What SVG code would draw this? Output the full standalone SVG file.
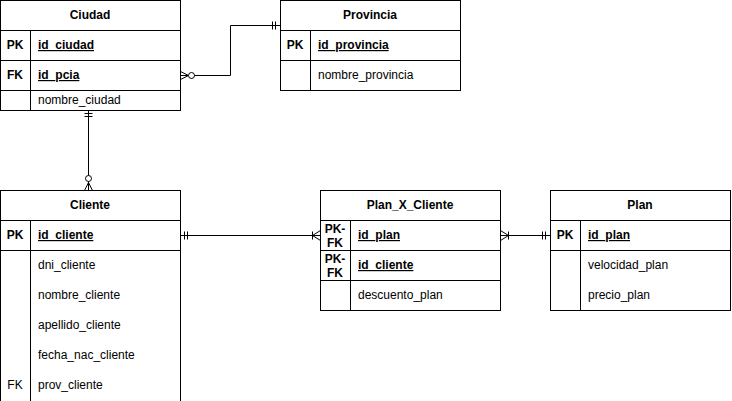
<svg xmlns="http://www.w3.org/2000/svg" width="732" height="401" viewBox="0 0 732 401">
<style>
text{font-family:"Liberation Sans",Arial,Helvetica,sans-serif;font-size:12px;fill:#000}
.h{font-weight:bold;text-anchor:middle}
.k{font-weight:bold;text-anchor:middle}
.u{font-weight:bold;text-decoration:underline}
.box{fill:#fff;stroke:#000;stroke-width:1}
.ln{fill:none;stroke:#000;stroke-width:1}
</style>
<rect width="732" height="401" fill="#fff"/>
<g id="connectors" class="ln">
  <path d="M180.5 75.5 H230.5 V25.5 H280.5"/>
  <path d="M180.5 71.5 L188.5 75.5 L180.5 79.5"/>
  <circle cx="191.5" cy="75.5" r="3" fill="#fff"/>
  <path d="M272.5 21.5 V29.5 M275.5 21.5 V29.5"/>
  <path d="M88.5 110.5 V190.5"/>
  <path d="M84.5 113.5 H92.5 M84.5 116.5 H92.5"/>
  <path d="M84.5 190.5 L88.5 182.5 L92.5 190.5"/>
  <circle cx="88.5" cy="178.5" r="3" fill="#fff"/>
  <path d="M180.5 235.5 H320.5"/>
  <path d="M184.5 231.5 V239.5 M187.5 231.5 V239.5"/>
  <path d="M320.5 230.5 L312.5 235.5 L320.5 240.5 M312.5 231.5 V239.5"/>
  <path d="M500.5 235.5 H550.5"/>
  <path d="M500.5 230.5 L508.5 235.5 L500.5 240.5 M508.5 231.5 V239.5"/>
  <path d="M542.5 231.5 V239.5 M545.5 231.5 V239.5"/>
</g>
<g id="ciudad">
  <rect class="box" x="0.5" y="0.5" width="180" height="110"/>
  <path class="ln" d="M0.5 30.5 H180.5 M0.5 60.5 H180.5 M0.5 90.5 H180.5 M30.5 30.5 V110.5"/>
  <text class="h" x="90" y="19">Ciudad</text>
  <text class="k" x="15" y="49">PK</text>
  <text class="u" x="38" y="49">id_ciudad</text>
  <text class="k" x="15" y="79">FK</text>
  <text class="u" x="38" y="79">id_pcia</text>
  <text x="38" y="104">nombre_ciudad</text>
</g>
<g id="provincia">
  <rect class="box" x="280.5" y="0.5" width="180" height="90"/>
  <path class="ln" d="M280.5 30.5 H460.5 M280.5 60.5 H460.5 M310.5 30.5 V90.5"/>
  <text class="h" x="370" y="19">Provincia</text>
  <text class="k" x="295" y="49">PK</text>
  <text class="u" x="318" y="49">id_provincia</text>
  <text x="318" y="79">nombre_provincia</text>
</g>
<g id="cliente">
  <rect class="box" x="0.5" y="190.5" width="180" height="220"/>
  <path class="ln" d="M0.5 220.5 H180.5 M0.5 250.5 H180.5 M30.5 220.5 V410.5"/>
  <text class="h" x="90" y="209">Cliente</text>
  <text class="k" x="15" y="239">PK</text>
  <text class="u" x="38" y="239">id_cliente</text>
  <text x="38" y="269">dni_cliente</text>
  <text x="38" y="299">nombre_cliente</text>
  <text x="38" y="329">apellido_cliente</text>
  <text x="38" y="359">fecha_nac_cliente</text>
  <text x="15" y="389" text-anchor="middle">FK</text>
  <text x="38" y="389">prov_cliente</text>
</g>
<g id="plan_x_cliente">
  <rect class="box" x="320.5" y="190.5" width="180" height="120"/>
  <path class="ln" d="M320.5 220.5 H500.5 M320.5 250.5 H500.5 M320.5 280.5 H500.5 M350.5 220.5 V310.5"/>
  <text class="h" x="410" y="209">Plan_X_Cliente</text>
  <text class="k" x="335" y="233">PK-</text>
  <text class="k" x="335" y="247">FK</text>
  <text class="u" x="358" y="239">id_plan</text>
  <text class="k" x="335" y="263">PK-</text>
  <text class="k" x="335" y="277">FK</text>
  <text class="u" x="358" y="269">id_cliente</text>
  <text x="358" y="299">descuento_plan</text>
</g>
<g id="plan">
  <rect class="box" x="550.5" y="190.5" width="180" height="120"/>
  <path class="ln" d="M550.5 220.5 H730.5 M550.5 250.5 H730.5 M580.5 220.5 V310.5"/>
  <text class="h" x="640" y="209">Plan</text>
  <text class="k" x="565" y="239">PK</text>
  <text class="u" x="588" y="239">id_plan</text>
  <text x="588" y="269">velocidad_plan</text>
  <text x="588" y="299">precio_plan</text>
</g>
</svg>
